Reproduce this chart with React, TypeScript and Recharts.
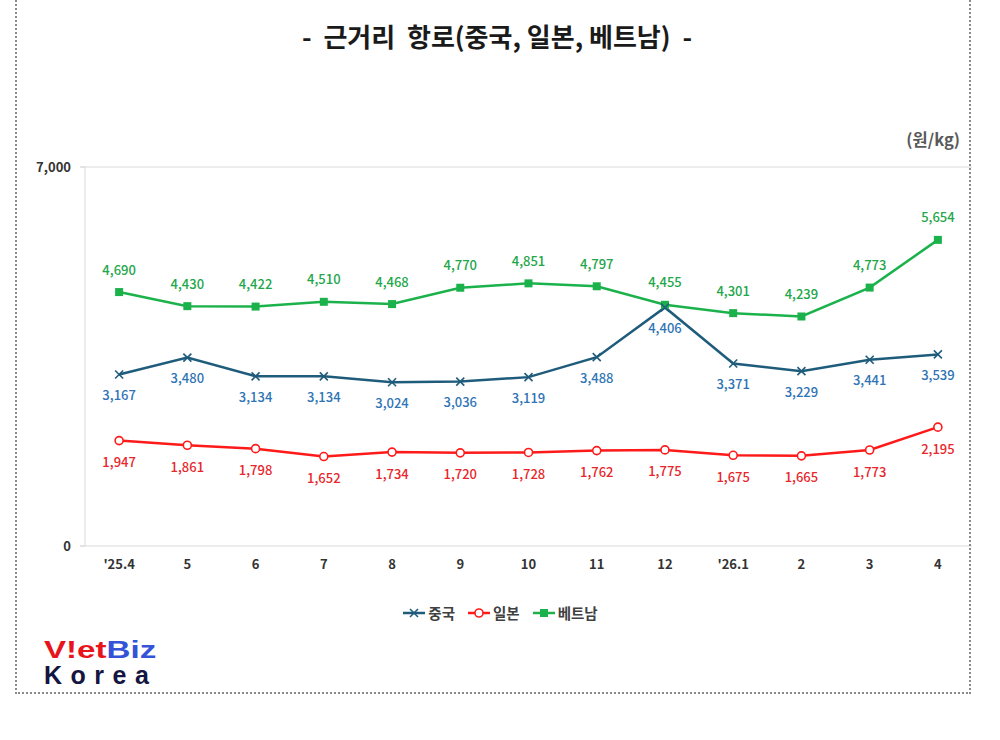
import React from 'react';
import { LineChart, Line, XAxis, YAxis, CartesianGrid } from 'recharts';

// Monthly freight rates on short-haul routes (KRW per kg)
const months = ["'25.4", '5', '6', '7', '8', '9', '10', '11', '12', "'26.1", '2', '3', '4'];
const china = [3167, 3480, 3134, 3134, 3024, 3036, 3119, 3488, 4406, 3371, 3229, 3441, 3539];
const japan = [1947, 1861, 1798, 1652, 1734, 1720, 1728, 1762, 1775, 1675, 1665, 1773, 2195];
const vietnam = [4690, 4430, 4422, 4510, 4468, 4770, 4851, 4797, 4455, 4301, 4239, 4773, 5654];
const yTicks = [0, 7000];

const seriesNames = { china: '중국', japan: '일본', vietnam: '베트남' };

const data = months.map((m, i) => ({
  idx: i,
  month: m,
  china: china[i],
  japan: japan[i],
  vietnam: vietnam[i],
}));

const xDomain: [number, number] = [-0.5, months.length - 0.5];
const categoryIdx = months.map((_, i) => i);
const boundaryTicks = [...months.map((_, i) => i - 0.5), months.length - 0.5];

const FONT = '"Noto Sans CJK KR", "Noto Sans", sans-serif';

const C_LINE = '#1f5c7c';
const C_LABEL = '#2f74b5';
const J_LINE = '#ff1a1a';
const J_LABEL = '#e8262b';
const V_LINE = '#1cb24b';
const V_LABEL = '#22a64a';

const fmt = (v: number) => v.toLocaleString('en-US');

const CrossDot = (props: any) => {
  const { cx, cy, index } = props;
  if (cx == null || cy == null) return <g key={`c${index}`} />;
  const s = 4;
  return (
    <g key={`c${index}`} stroke={C_LINE} strokeWidth={1.6}>
      <line x1={cx - s} y1={cy - s} x2={cx + s} y2={cy + s} />
      <line x1={cx - s} y1={cy + s} x2={cx + s} y2={cy - s} />
    </g>
  );
};

const CircleDot = (props: any) => {
  const { cx, cy, index } = props;
  if (cx == null || cy == null) return <g key={`j${index}`} />;
  return <circle key={`j${index}`} cx={cx} cy={cy} r={4} fill="#fff" stroke={J_LINE} strokeWidth={1.6} />;
};

const SquareDot = (props: any) => {
  const { cx, cy, index } = props;
  if (cx == null || cy == null) return <g key={`v${index}`} />;
  return <rect key={`v${index}`} x={cx - 4} y={cy - 4} width={8} height={8} fill={V_LINE} />;
};

const makeLabel = (color: string, dy: number) => (props: any) => {
  const { x, y, value, index } = props;
  if (x == null || y == null) return <g key={`l${index}`} />;
  return (
    <text
      key={`l${index}`}
      x={x}
      y={y + dy}
      textAnchor="middle"
      dominantBaseline="central"
      fill={color}
      fontSize={13}
      fontWeight={500}
      fontFamily={FONT}
    >
      {fmt(value)}
    </text>
  );
};

const LegendIcon = ({ kind, color }: { kind: string; color: string }) => (
  <svg width={24} height={12} style={{ verticalAlign: 'middle' }}>
    <line x1={1} y1={6} x2={23} y2={6} stroke={color} strokeWidth={2.5} />
    {kind === 'cross' && (
      <g stroke={color} strokeWidth={1.6}>
        <line x1={8} y1={2} x2={16} y2={10} />
        <line x1={8} y1={10} x2={16} y2={2} />
      </g>
    )}
    {kind === 'circle' && <circle cx={12} cy={6} r={4} fill="#fff" stroke={color} strokeWidth={1.6} />}
    {kind === 'square' && <rect x={8} y={2} width={8} height={8} fill={color} />}
  </svg>
);

const legendItems = [
  { name: seriesNames.china, kind: 'cross', color: C_LINE },
  { name: seriesNames.japan, kind: 'circle', color: J_LINE },
  { name: seriesNames.vietnam, kind: 'square', color: V_LINE },
];

export default function App() {
  return (
    <div
      style={{
        position: 'absolute',
        left: 0,
        top: 0,
        width: 1000,
        height: 740,
        background: '#fff',
        overflow: 'hidden',
        fontFamily: FONT,
      }}
    >
      <div
        style={{
          position: 'absolute',
          left: 0,
          width: 994,
          top: 18,
          textAlign: 'center',
          fontSize: 26,
          fontWeight: 700,
          color: '#1a1a1a',
          whiteSpace: 'pre',
          lineHeight: '36px',
        }}
      >
        {'-  근거리  항로(중국, 일본, 베트남)  -'}
      </div>

      <div
        style={{
          position: 'absolute',
          right: 40,
          top: 127,
          fontSize: 16.5,
          fontWeight: 700,
          color: '#595959',
          lineHeight: '24px',
        }}
      >
        (원/kg)
      </div>

      <div style={{ position: 'absolute', left: 0, top: 0 }}>
        <LineChart
          width={1000}
          height={740}
          data={data}
          margin={{ top: 167, right: 28, bottom: 164, left: 25 }}
        >
          <CartesianGrid vertical={false} stroke="#d9d9d9" />
          <XAxis
            xAxisId="bounds"
            type="number"
            dataKey="idx"
            domain={xDomain}
            ticks={boundaryTicks}
            allowDataOverflow
            height={0}
            tick={false}
            tickSize={5}
            tickLine={{ stroke: '#c8c8c8' }}
            axisLine={{ stroke: '#d9d9d9' }}
          />
          <XAxis
            type="number"
            dataKey="idx"
            domain={xDomain}
            ticks={categoryIdx}
            allowDataOverflow
            height={30}
            tickLine={false}
            axisLine={false}
            tickSize={0}
            tickMargin={14}
            interval={0}
            tickFormatter={(i: number) => months[i] ?? ''}
            tick={{ fontSize: 13, fontWeight: 700, fill: '#333', fontFamily: FONT }}
          />
          <YAxis
            width={60}
            domain={[0, 7000]}
            ticks={yTicks}
            interval={0}
            tickFormatter={fmt}
            tickSize={5}
            tickMargin={9}
            tickLine={{ stroke: '#c8c8c8' }}
            axisLine={{ stroke: '#d9d9d9' }}
            tick={{ fontSize: 13, fontWeight: 700, fill: '#333', fontFamily: FONT }}
          />
          <Line
            dataKey="vietnam"
            name={seriesNames.vietnam}
            type="linear"
            stroke={V_LINE}
            strokeWidth={2.5}
            dot={SquareDot}
            activeDot={false}
            label={makeLabel(V_LABEL, -23)}
            isAnimationActive={false}
          />
          <Line
            dataKey="china"
            name={seriesNames.china}
            type="linear"
            stroke={C_LINE}
            strokeWidth={2.5}
            dot={CrossDot}
            activeDot={false}
            label={makeLabel(C_LABEL, 20)}
            isAnimationActive={false}
          />
          <Line
            dataKey="japan"
            name={seriesNames.japan}
            type="linear"
            stroke={J_LINE}
            strokeWidth={2.5}
            dot={CircleDot}
            activeDot={false}
            label={makeLabel(J_LABEL, 21)}
            isAnimationActive={false}
          />
        </LineChart>
      </div>

      <div
        style={{
          position: 'absolute',
          left: 0,
          width: 1000,
          top: 602,
          display: 'flex',
          justifyContent: 'center',
          gap: 12,
          fontSize: 14.5,
          fontWeight: 700,
          color: '#404040',
          lineHeight: '22px',
        }}
      >
        {legendItems.map((it) => (
          <span key={it.name} style={{ display: 'inline-flex', alignItems: 'center', gap: 2 }}>
            <LegendIcon kind={it.kind} color={it.color} />
            {it.name}
          </span>
        ))}
      </div>

      <div
        style={{
          position: 'absolute',
          left: 44,
          top: 636,
          fontFamily: '"Liberation Sans", Arial, sans-serif',
          fontWeight: 700,
        }}
      >
        <div
          style={{
            fontSize: 24,
            lineHeight: '27px',
            height: 27,
            transform: 'scaleX(1.38)',
            transformOrigin: 'left center',
            whiteSpace: 'nowrap',
          }}
        >
          <span style={{ color: '#e8141c' }}>V!et</span>
          <span style={{ color: '#3553d6' }}>Biz</span>
        </div>
        <div
          style={{
            fontSize: 25,
            lineHeight: '24px',
            color: '#14163f',
            letterSpacing: 8.5,
            whiteSpace: 'nowrap',
          }}
        >
          Korea
        </div>
      </div>

      <div
        style={{
          position: 'absolute',
          left: 15,
          top: -20,
          width: 956,
          height: 714,
          boxSizing: 'border-box',
          border: '2px dotted #8a8a8a',
          pointerEvents: 'none',
        }}
      />
    </div>
  );
}
